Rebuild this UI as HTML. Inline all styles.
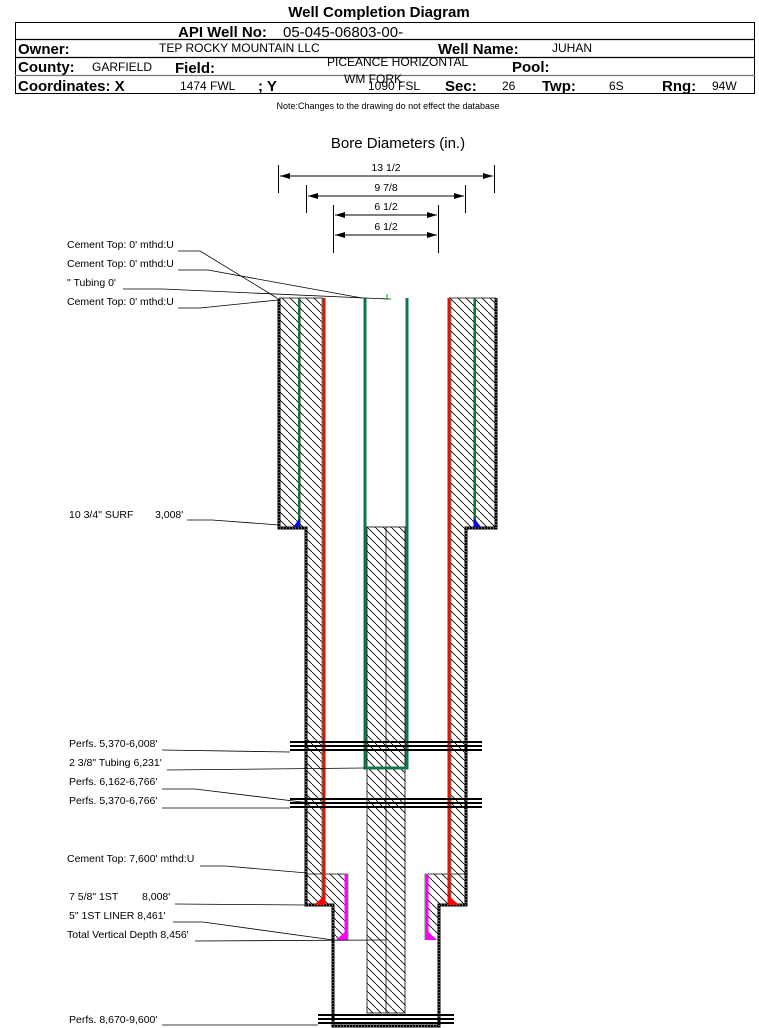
<!DOCTYPE html>
<html><head><meta charset="utf-8"><style>
html,body{margin:0;padding:0;background:#fff;}
svg{display:block;font-family:"Liberation Sans",Arial,sans-serif;}
</style></head><body>
<svg width="759" height="1028" viewBox="0 0 759 1028" xmlns="http://www.w3.org/2000/svg">
<defs>
<pattern id="h" patternUnits="userSpaceOnUse" width="8" height="8">
<rect width="8" height="8" fill="#fff"/>
<path d="M-1,-1 L9,9" stroke="#000" stroke-width="0.8"/>
</pattern>
<marker id="a" markerWidth="10" markerHeight="6" refX="10" refY="3" orient="auto" markerUnits="userSpaceOnUse"><path d="M0,0 L10,3 L0,6 z" fill="#000"/></marker>
<marker id="b" markerWidth="10" markerHeight="6" refX="0" refY="3" orient="auto" markerUnits="userSpaceOnUse"><path d="M10,0 L0,3 L10,6 z" fill="#000"/></marker>
</defs>

<!-- header -->
<text x="379" y="17" font-size="15" font-weight="bold" text-anchor="middle">Well Completion Diagram</text>
<rect x="15.5" y="22.5" width="739" height="71" fill="none" stroke="#000" stroke-width="1"/>
<line x1="15" y1="39.5" x2="755" y2="39.5" stroke="#000" stroke-width="1.2"/>
<line x1="15" y1="57.5" x2="755" y2="57.5" stroke="#000" stroke-width="1.2"/>
<line x1="15" y1="75.5" x2="755" y2="75.5" stroke="#777" stroke-width="1.2"/>
<text x="178" y="37" font-size="15" font-weight="bold">API Well No:</text>
<text x="283" y="37" font-size="15">05-045-06803-00-</text>
<text x="18" y="54" font-size="15" font-weight="bold">Owner:</text>
<text x="159" y="52" font-size="12">TEP ROCKY MOUNTAIN LLC</text>
<text x="438" y="54" font-size="15" font-weight="bold">Well Name:</text>
<text x="552" y="52" font-size="12">JUHAN</text>
<text x="18" y="72" font-size="15" font-weight="bold">County:</text>
<text x="92" y="71" font-size="12">GARFIELD</text>
<text x="175" y="73" font-size="15" font-weight="bold">Field:</text>
<text x="327" y="66" font-size="12">PICEANCE HORIZONTAL</text>
<text x="344" y="83" font-size="12">WM FORK</text>
<text x="512" y="72" font-size="15" font-weight="bold">Pool:</text>
<text x="18" y="91" font-size="15" font-weight="bold">Coordinates: X</text>
<text x="180" y="90" font-size="12">1474 FWL</text>
<text x="258" y="91" font-size="15" font-weight="bold">; Y</text>
<text x="368" y="90" font-size="12">1090 FSL</text>
<text x="445" y="91" font-size="15" font-weight="bold">Sec:</text>
<text x="502" y="90" font-size="12">26</text>
<text x="542" y="91" font-size="15" font-weight="bold">Twp:</text>
<text x="609" y="90" font-size="12">6S</text>
<text x="662" y="91" font-size="15" font-weight="bold">Rng:</text>
<text x="712" y="90" font-size="12">94W</text>
<text x="388" y="109" font-size="9" text-anchor="middle">Note:Changes to the drawing do not effect the database</text>

<!-- bore diameters -->
<text x="398" y="148" font-size="15" text-anchor="middle">Bore Diameters (in.)</text>
<g stroke="#000" stroke-width="1">
<line x1="278.5" y1="165" x2="278.5" y2="193"/><line x1="494.5" y1="165" x2="494.5" y2="193"/>
<line x1="280" y1="176" x2="493" y2="176" marker-start="url(#b)" marker-end="url(#a)"/>
<line x1="306.5" y1="185" x2="306.5" y2="213"/><line x1="465.5" y1="185" x2="465.5" y2="213"/>
<line x1="308" y1="196" x2="464" y2="196" marker-start="url(#b)" marker-end="url(#a)"/>
<line x1="333.5" y1="205" x2="333.5" y2="253"/><line x1="438.5" y1="205" x2="438.5" y2="253"/>
<line x1="335" y1="215" x2="437" y2="215" marker-start="url(#b)" marker-end="url(#a)"/>
<line x1="335" y1="235" x2="437" y2="235" marker-start="url(#b)" marker-end="url(#a)"/>
</g>
<g font-size="10.5" text-anchor="middle">
<text x="386" y="171">13 1/2</text><text x="386" y="191">9 7/8</text>
<text x="386" y="210">6 1/2</text><text x="386" y="230">6 1/2</text>
</g>

<!-- cement hatched regions -->
<g fill="url(#h)" stroke="none">
<rect x="279" y="298" width="44" height="230"/>
<rect x="306" y="527" width="17" height="378"/>
<rect x="449" y="298" width="47" height="230"/>
<rect x="449" y="527" width="17" height="378"/>
<rect x="306" y="874" width="40" height="31"/>
<rect x="333" y="905" width="13" height="35"/>
<rect x="428" y="874" width="38" height="31"/>
<rect x="428" y="905" width="11" height="35"/>
<rect x="367" y="527" width="38" height="486"/>
</g>
<g stroke="#000" stroke-width="0.8" fill="none">
<line x1="300" y1="298" x2="300" y2="527"/>
<line x1="474" y1="298" x2="474" y2="527"/>
<line x1="386" y1="527" x2="386" y2="1013"/>
<rect x="367" y="527" width="38" height="486"/>
<line x1="306" y1="874" x2="346" y2="874"/>
<line x1="428" y1="874" x2="466" y2="874"/>
<line x1="279" y1="298" x2="323" y2="298"/>
<line x1="449" y1="298" x2="496" y2="298"/>
</g>

<!-- hole wall (dotted thick) -->
<g fill="none">
<path d="M279,298 V528 H306 V905 H333 V1026 H439 V905 H466 V528 H496 V298" stroke="#000" stroke-width="3"/>
<path d="M279,298 V528 H306 V905 H333 V1026 H439 V905 H466 V528 H496 V298" stroke="#bbb" stroke-width="1" stroke-dasharray="1,2"/>
</g>

<!-- surface casing green -->
<g stroke="#0a7a3a" stroke-width="2">
<line x1="299" y1="298" x2="299" y2="527"/>
<line x1="475" y1="298" x2="475" y2="527"/>
</g>
<polygon points="293,527 300,527 300,518" fill="#0000ff"/>
<polygon points="481,527 474,527 474,518" fill="#0000ff"/>

<!-- intermediate casing red -->
<g stroke="#e01010" stroke-width="3">
<line x1="324" y1="298" x2="324" y2="903"/>
<line x1="449" y1="298" x2="449" y2="903"/>
</g>
<g stroke="#2a8a2a" stroke-width="0.8">
<line x1="322" y1="298" x2="322" y2="903"/>
<line x1="451" y1="298" x2="451" y2="903"/>
</g>
<polygon points="314,905 325,905 325,895" fill="#ff0000"/>
<polygon points="459,905 448,905 448,895" fill="#ff0000"/>

<!-- liner magenta -->
<g stroke="#ff00ff" stroke-width="3">
<line x1="346" y1="874" x2="346" y2="940"/>
<line x1="427" y1="874" x2="427" y2="940"/>
</g>
<g stroke="#2a8a2a" stroke-width="0.8" fill="none">
<path d="M344.5,874 H348 V940"/><path d="M428.5,874 H425 V940"/>
</g>
<polygon points="336,940 347,940 347,930" fill="#ff00ff"/>
<polygon points="437,940 426,940 426,930" fill="#ff00ff"/>

<!-- tubing -->
<path d="M365,298 V768 H407 V298" fill="none" stroke="#0a7a4a" stroke-width="3"/>
<line x1="387" y1="294" x2="387" y2="299" stroke="#0a0" stroke-width="1"/>
<line x1="387" y1="299" x2="391" y2="299" stroke="#0a0" stroke-width="1"/>

<!-- perfs -->
<g stroke="#000" stroke-width="2">
<line x1="290" y1="742" x2="482" y2="742"/><line x1="290" y1="746" x2="482" y2="746"/><line x1="290" y1="750" x2="482" y2="750"/>
<line x1="290" y1="799" x2="482" y2="799"/><line x1="290" y1="803" x2="482" y2="803"/><line x1="290" y1="807" x2="482" y2="807"/>
<line x1="318" y1="1015" x2="454" y2="1015"/><line x1="318" y1="1019" x2="454" y2="1019"/><line x1="318" y1="1023" x2="454" y2="1023"/>
</g>

<!-- labels -->
<g font-size="10.5">
<text x="67" y="248">Cement Top: 0' mthd:U</text>
<text x="67" y="267">Cement Top: 0' mthd:U</text>
<text x="67" y="286">" Tubing 0'</text>
<text x="67" y="305">Cement Top: 0' mthd:U</text>
<text x="69" y="518">10 3/4" SURF</text><text x="155" y="518">3,008'</text>
<text x="69" y="747">Perfs. 5,370-6,008'</text>
<text x="69" y="766">2 3/8" Tubing 6,231'</text>
<text x="69" y="785">Perfs. 6,162-6,766'</text>
<text x="69" y="804">Perfs. 5,370-6,766'</text>
<text x="67" y="862">Cement Top: 7,600' mthd:U</text>
<text x="69" y="900">7 5/8" 1ST</text><text x="142" y="900">8,008'</text>
<text x="69" y="919">5" 1ST LINER  8,461'</text>
<text x="67" y="938">Total Vertical Depth 8,456'</text>
<text x="69" y="1023">Perfs. 8,670-9,600'</text>
</g>
<g stroke="#000" stroke-width="0.8" fill="none">
<polyline points="178,251 200,251 277,298"/>
<polyline points="178,270 208,270 362,298"/>
<polyline points="123,289 163,289 388,299"/>
<polyline points="178,308 200,308 278,300"/>
<polyline points="187,520 212,520 279,525"/>
<polyline points="162,750 290,752"/>
<polyline points="167,770 365,768"/>
<polyline points="162,789 195,789 310,803 385,803"/>
<polyline points="162,808 290,808"/>
<polyline points="200,866 225,866 307,873"/>
<polyline points="175,904 307,905"/>
<polyline points="173,922 203,922 333,940"/>
<polyline points="195,941 386,940"/>
<polyline points="162,1025 318,1025"/>
</g>
</svg>
</body></html>
